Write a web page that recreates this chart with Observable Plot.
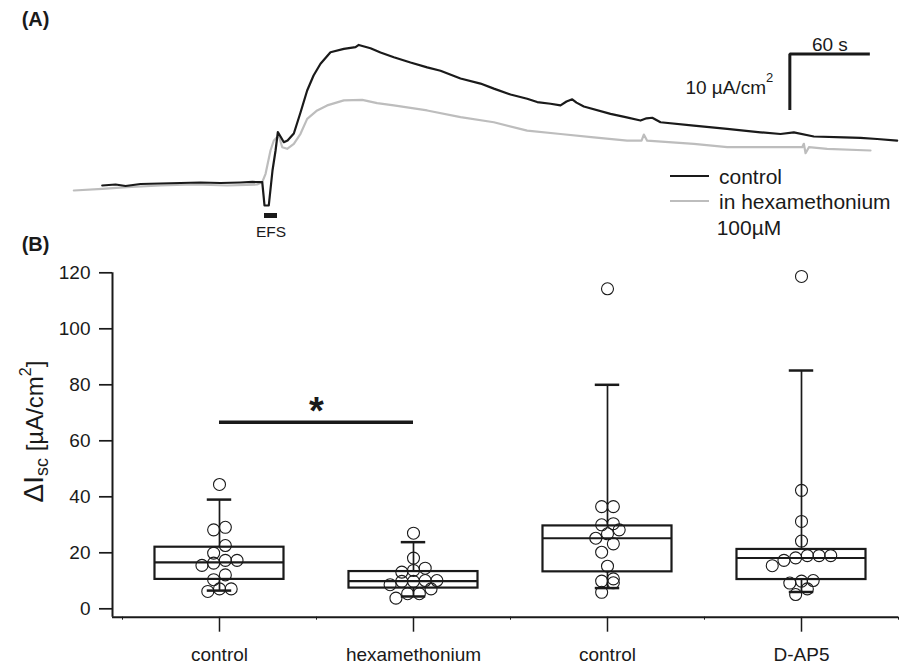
<!DOCTYPE html>
<html><head><meta charset="utf-8">
<script src="https://cdn.jsdelivr.net/npm/d3@7"></script>
<script src="https://cdn.jsdelivr.net/npm/@observablehq/plot@0.6"></script>
<style>
body{margin:0;background:#fff;}
#fig{position:relative;width:904px;height:663px;font-family:"Liberation Sans",Arial,sans-serif;color:#1a1a1a;background:#fff;}
#fig svg{position:absolute;left:0;overflow:visible;}
</style></head><body><div id="fig"></div>
<script>
// ---------- Panel A: Isc traces (time in s, current in µA/cm², baseline = 0) ----------
const controlTime = [22.3,32.3,39.8,51,66,81,96,111,126,135,142.3,143.3,144,147.2,150,152.3,154,156,158.5,161.3,166,171,176,180.8,186,193.5,203.5,212.3,214.7,223.5,231,241,253.5,266,276,291,306,316,328.5,341,348.5,358.5,366,370.5,374.8,378,383.5,403.5,414.8,426,430.5,434.8,441,466,491,516,531,541,556,578.5,591,603.5,618.5];
const controlCurrent = [0,0.18,-0.09,0.27,0.36,0.45,0.54,0.45,0.54,0.63,0.59,-1.79,-3.57,-3.57,2.68,6.25,9.52,8.75,7.73,8.04,9.29,13.04,16.96,19.64,21.73,23.8,24.4,24.7,25.1,24.5,23.75,22.9,21.96,21.1,20.5,19.1,18.2,17.3,16.25,15.5,14.9,14.6,14.3,15.0,15.4,14.8,14.1,12.8,12.2,11.6,12.0,12.1,11.3,10.7,10.1,9.5,9.2,9.5,8.75,8.6,8.5,8.3,8.0];
const hexTime = [1,22.3,41,66,90.8,116,138.5,142.3,144.8,148.5,151,154.7,157.3,161,166,171,176,183.5,191,203.5,217.3,228.5,241,266,291,316,341,366,391,416,426.8,428.5,431,466,491,516,541,547.3,548.5,549.8,552.3,566,598.5];
const hexCurrent = [-0.89,-0.59,-0.3,0,0.18,0,0.18,0.59,2.09,6.25,8.04,8.93,6.84,6.55,7.45,9.23,11.9,13.4,14.3,15.2,15.3,14.7,14.3,13.4,12.2,11.3,9.8,9.2,8.6,8.0,8.0,9.1,8.0,7.45,6.84,6.84,6.84,6.84,7.45,5.77,6.84,6.55,6.25];
const traceNames = ["control", "in hexamethonium", "100µM"];
const scaleBarTimeStart = 538, scaleBarCurrentTop = 23.5, scaleBarTime = 60, scaleBarCurrent = 10;
const efsStart = 144, efsEnd = 153.75, efsLevel = -5.36;

// ---------- Panel B: ΔIsc per tissue ----------
const groupLabels = ["control", "hexamethonium", "control", "D-AP5"];
const valuesControl1 = [44.4,28.2,29.1,22.6,19.9,17.3,17.3,15.5,16.3,12.1,10.4,7.1,6.2,7.1];
const valuesHexamethonium = [27.0,18.1,14.5,13.7,13.1,10.1,10.1,9.8,9.8,8.6,7.1,5.4,5.4,3.8];
const valuesControl2 = [114.3,36.5,36.5,30.4,30.0,28.2,26.8,25.2,23.2,20.2,15.2,10.7,9.9,9.3,5.9];
const valuesDAP5 = [118.7,42.3,31.2,24.2,19.0,19.0,19.0,18.2,17.3,15.4,10.1,9.9,9.2,7.1,5.1];
const boxQ1 = [10.5, 7.4, 13.2, 10.45];
const boxMedian = [16.6, 9.9, 25.2, 18.15];
const boxQ3 = [22.0, 13.3, 29.6, 21.2];
const whiskerLow = [6.5, 4.4, 7.4, 6.0];
const whiskerHigh = [39.0, 23.8, 80.0, 85.1];
const yTicks = [0, 20, 40, 60, 80, 100, 120];
const significanceLevel = 66.6;

const ink = "#1a1a1a", grey = "#bdbdbd";
const font = "Liberation Sans, Arial, sans-serif";
const fig = document.getElementById("fig");

// ---- Panel A ----
const ctrl = controlTime.map((t, i) => ({t, I: controlCurrent[i]}));
const hex = hexTime.map((t, i) => ({t, I: hexCurrent[i]}));
const scaleBar = [
  {t: scaleBarTimeStart, I: scaleBarCurrentTop - scaleBarCurrent},
  {t: scaleBarTimeStart, I: scaleBarCurrentTop},
  {t: scaleBarTimeStart + scaleBarTime, I: scaleBarCurrentTop}
];
const plotA = Plot.plot({
  width: 904, height: 240,
  marginLeft: 72, marginRight: 5.33, marginTop: 0, marginBottom: 0,
  x: {domain: [0, 620], axis: null},
  y: {domain: [-9.821, 33.036], axis: null},
  style: {fontFamily: font, background: "transparent", color: ink, overflow: "visible"},
  marks: [
    Plot.line(hex, {x: "t", y: "I", stroke: grey, strokeWidth: 2.2}),
    Plot.line(ctrl, {x: "t", y: "I", stroke: ink, strokeWidth: 2.2}),
    Plot.line(scaleBar, {x: "t", y: "I", stroke: ink, strokeWidth: 3, strokeLinejoin: "miter", strokeLinecap: "butt"}),
    Plot.text([`${scaleBarTime} s`], {x: scaleBarTimeStart + scaleBarTime / 2, y: scaleBarCurrentTop, lineAnchor: "bottom", dy: -3.3, fontSize: 19, fill: ink}),
    Plot.ruleY([efsLevel], {x1: efsStart, x2: efsEnd, stroke: ink, strokeWidth: 5}),
    Plot.text(["EFS"], {x: (efsStart + efsEnd) / 2, y: efsLevel, lineAnchor: "bottom", dy: 21.5, fontSize: 15.5, fill: ink})
  ]
});
plotA.style.top = "0px";
fig.appendChild(plotA);
{
  const sx = plotA.scale("x"), sy = plotA.scale("y");
  const svg = d3.select(plotA);
  const bx = sx.apply(scaleBarTimeStart), by = sy.apply(scaleBarCurrentTop);
  const t = svg.append("text").attr("x", bx - 16).attr("y", by + 40.7).attr("text-anchor", "end")
    .attr("font-size", 19).attr("fill", ink).attr("font-family", font);
  t.append("tspan").text(`${scaleBarCurrent} µA/cm`);
  t.append("tspan").attr("font-size", 13).attr("dy", -12).text("2");
  // legend
  const lg = svg.append("g").attr("font-family", font).attr("font-size", 21).attr("fill", ink).attr("text-anchor", "start");
  lg.append("line").attr("x1", 670).attr("x2", 709).attr("y1", 176).attr("y2", 176).attr("stroke", ink).attr("stroke-width", 2.2);
  lg.append("line").attr("x1", 670).attr("x2", 709).attr("y1", 201).attr("y2", 201).attr("stroke", grey).attr("stroke-width", 2.2);
  lg.append("text").attr("x", 719).attr("y", 184).text(traceNames[0]);
  lg.append("text").attr("x", 719).attr("y", 209).text(traceNames[1]);
  lg.append("text").attr("x", 716.7).attr("y", 235).text(traceNames[2]);
  svg.append("text").attr("x", 21.7).attr("y", 26).attr("font-size", 20).attr("font-weight", "bold")
    .attr("text-anchor", "start").attr("font-family", font).attr("fill", ink).text("(A)");
}

// ---- Panel B ----
const binWidth = 4.0, laneStep = 0.0603;
function swarm(values, pos) {
  const sorted = values.slice().sort((a, b) => a - b);
  const bins = []; let cur = null;
  for (const v of sorted) {
    if (!cur || v - cur[0] >= binWidth) { cur = [v]; bins.push(cur); } else cur.push(v);
  }
  return bins.flatMap(b => b.map((v, i) => ({x: pos + (i - (b.length - 1) / 2) * laneStep, v})));
}
const points = [valuesControl1, valuesHexamethonium, valuesControl2, valuesDAP5].flatMap((vals, i) => swarm(vals, i + 1));
const boxes = groupLabels.map((g, i) => ({pos: i + 1, q1: boxQ1[i], med: boxMedian[i], q3: boxQ3[i], lo: whiskerLow[i], hi: whiskerHigh[i]}));
const boxHalf = 0.3325, capHalf = 0.063;
const xMin = 0.4485, xMax = 4.5, yMin = -3;
const minorTicks = [0.5, 1.5, 2.5, 3.5, 4.5];

const plotB = Plot.plot({
  width: 904, height: 423,
  marginLeft: 112, marginRight: 6, marginTop: 32.3, marginBottom: 46.3,
  x: {domain: [xMin, xMax]},
  y: {domain: [yMin, 120]},
  style: {fontFamily: font, background: "transparent", color: ink, overflow: "visible", fontSize: "19px"},
  marks: [
    Plot.axisY(yTicks, {tickSize: 13, tickPadding: 9, fontSize: 19, strokeWidth: 1.7, label: null}),
    Plot.axisX([1, 2, 3, 4], {tickSize: 15, tickPadding: 15, fontSize: 19, strokeWidth: 1.5, tickFormat: d => groupLabels[d - 1], label: null}),
    Plot.axisX(minorTicks, {tickSize: 3, strokeWidth: 1, tickFormat: () => "", label: null}),
    Plot.ruleX([xMin], {y1: yMin, y2: 120, stroke: ink, strokeWidth: 2}),
    Plot.ruleY([yMin], {x1: xMin, x2: xMax, stroke: ink, strokeWidth: 2}),
    Plot.ruleX(boxes, {x: "pos", y1: "q3", y2: "hi", stroke: ink, strokeWidth: 1.7}),
    Plot.ruleX(boxes, {x: "pos", y1: "lo", y2: "q1", stroke: ink, strokeWidth: 1.7}),
    Plot.ruleY(boxes, {y: "hi", x1: d => d.pos - capHalf, x2: d => d.pos + capHalf, stroke: ink, strokeWidth: 2.5}),
    Plot.ruleY(boxes, {y: "lo", x1: d => d.pos - capHalf, x2: d => d.pos + capHalf, stroke: ink, strokeWidth: 2.5}),
    Plot.rect(boxes, {x1: d => d.pos - boxHalf, x2: d => d.pos + boxHalf, y1: "q1", y2: "q3", fill: "none", stroke: ink, strokeWidth: 2.2}),
    Plot.ruleY(boxes, {y: "med", x1: d => d.pos - boxHalf, x2: d => d.pos + boxHalf, stroke: ink, strokeWidth: 2.2}),
    Plot.dot(points, {x: "x", y: "v", r: 6, stroke: ink, fill: "none", strokeWidth: 1.1}),
    Plot.ruleY([significanceLevel], {x1: 1, x2: 2, stroke: ink, strokeWidth: 3.5}),
    Plot.text(["*"], {x: 1.5, y: significanceLevel, lineAnchor: "bottom", dy: 1.5, fontSize: 38, fontWeight: "bold", fill: ink})
  ]
});
plotB.style.top = "240px";
fig.appendChild(plotB);
{
  const svg = d3.select(plotB);
  const sy = plotB.scale("y");
  const cy = (sy.apply(120) + sy.apply(yMin)) / 2 - 13;
  const t = svg.append("text").attr("transform", `translate(43,${cy}) rotate(-90)`)
    .attr("text-anchor", "middle").attr("font-family", font).attr("fill", ink);
  t.append("tspan").attr("font-size", 28).text("ΔI");
  t.append("tspan").attr("font-size", 18).attr("dy", 5).text("sc");
  t.append("tspan").attr("font-size", 24).attr("dy", -5).text(" [µA/cm");
  t.append("tspan").attr("font-size", 16).attr("dy", -12).text("2");
  t.append("tspan").attr("font-size", 24).attr("dy", 12).text("]");
  svg.append("text").attr("x", 21.7).attr("y", 11).attr("font-size", 20).attr("font-weight", "bold")
    .attr("text-anchor", "start").attr("font-family", font).attr("fill", ink).text("(B)");
}
</script></body></html>
